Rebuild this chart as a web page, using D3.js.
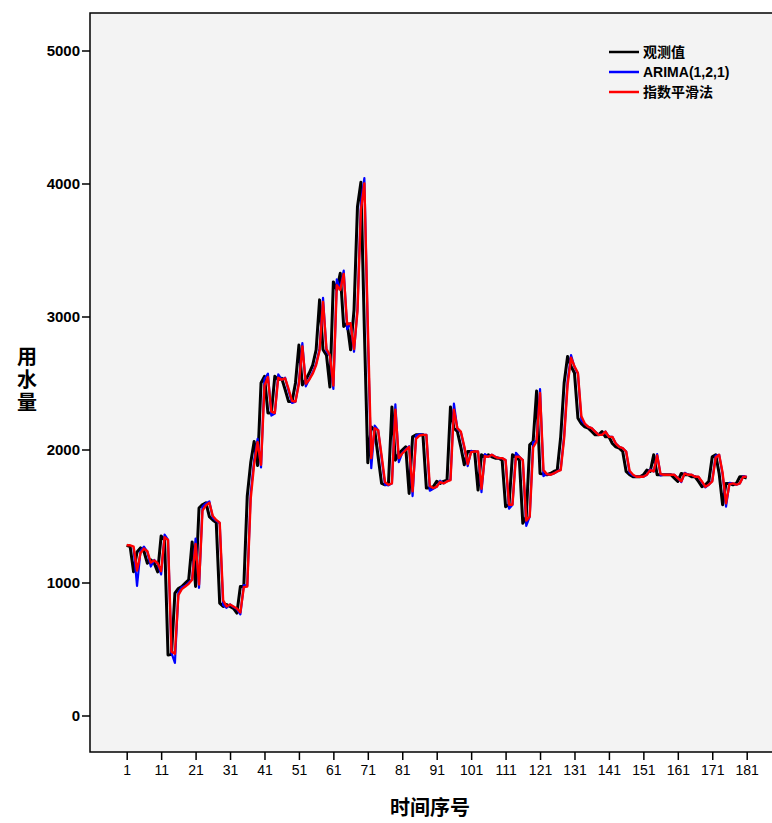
<!DOCTYPE html>
<meta charset="utf-8">
<style>
  body { margin: 0; background: #fff; }
  svg { display: block; }
</style>

<!-- Load d3.js -->
<script src="https://d3js.org/d3.v7.min.js"></script>

<div id="my_dataviz"></div>

<script>

// 观测值
const observed = [
  1280,1270,1080,1230,1260,1235,1145,1170,1145,1080,
  1350,1320,455,460,920,955,970,995,1020,1305,
  970,1560,1585,1600,1495,1470,1450,845,820,835,
  820,805,770,970,970,1650,1900,2060,1880,2500,
  2550,2275,2275,2550,2525,2535,2450,2360,2360,2500,
  2785,2485,2525,2575,2635,2750,3125,2750,2710,2470,
  3260,3200,3325,2925,2950,2750,3050,3825,4010,2900,
  1900,2170,2145,1945,1745,1735,1745,2320,1920,1970,
  1995,2020,1670,2095,2110,2110,2110,1710,1710,1720,
  1760,1745,1760,1770,2320,2160,2135,2020,1885,1985,
  1985,1985,1695,1960,1945,1960,1945,1935,1935,1920,
  1570,1585,1960,1945,1920,1445,1495,2035,2060,2440,
  1820,1815,1810,1820,1835,1845,2095,2500,2700,2625,
  2575,2235,2195,2170,2160,2135,2110,2110,2135,2095,
  2095,2045,2020,2010,1985,1835,1810,1795,1795,1795,
  1810,1845,1835,1960,1810,1810,1810,1810,1810,1785,
  1760,1820,1810,1810,1795,1795,1760,1720,1735,1760,
  1945,1960,1820,1585,1745,1745,1735,1745,1795,1795,
  1785
];

// ARIMA(1,2,1) (no forecast for the first two points)
const arima = [
  null,null,1262,975,1235,1270,1230,1120,1170,1140,
  1060,1360,1320,470,395,925,965,975,1000,1025,
  1330,960,1570,1595,1610,1485,1465,1445,830,810,
  835,815,800,760,980,975,1670,1920,2080,1865,
  2530,2570,2255,2270,2565,2525,2540,2440,2350,2360,
  2510,2800,2475,2530,2580,2645,2760,3140,2740,2705,
  2455,3280,3205,3345,2905,2950,2735,3060,3850,4040,
  2870,1860,2180,2145,1935,1735,1730,1745,2340,1905,
  1975,2000,2025,1650,2105,2115,2110,2110,1690,1705,
  1720,1765,1745,1760,1775,2345,2155,2130,2015,1875,
  1990,1985,1985,1680,1965,1945,1960,1945,1935,1935,
  1920,1555,1585,1975,1945,1920,1425,1495,2055,2065,
  2455,1800,1815,1810,1820,1835,1850,2105,2515,2710,
  2620,2570,2220,2190,2170,2160,2135,2110,2110,2135,
  2095,2095,2045,2020,2010,1985,1825,1805,1795,1795,
  1795,1810,1850,1835,1965,1805,1810,1810,1810,1810,
  1785,1755,1825,1810,1810,1795,1795,1755,1715,1735,
  1765,1955,1960,1815,1570,1750,1745,1735,1745,1800,
  1795
];

// 指数平滑法
const smoothing = [
  1280,1280,1270,1090,1220,1255,1235,1150,1165,1145,
  1085,1340,1320,480,465,905,950,970,990,1020,
  1290,985,1540,1580,1600,1500,1470,1450,865,820,
  835,820,805,775,965,970,1630,1890,2055,1885,
  2480,2545,2285,2275,2540,2525,2535,2455,2365,2360,
  2495,2775,2495,2525,2570,2635,2745,3110,2755,2710,
  2480,3235,3200,3320,2940,2950,2755,3040,3800,4000,
  2935,1935,2160,2145,1955,1755,1735,1745,2300,1935,
  1970,1995,2020,1685,2080,2105,2110,2110,1725,1710,
  1720,1755,1745,1760,1770,2300,2160,2135,2025,1890,
  1980,1985,1985,1705,1950,1945,1960,1945,1935,1935,
  1920,1585,1585,1945,1945,1920,1465,1495,2015,2060,
  2425,1845,1815,1810,1820,1835,1845,2085,2485,2690,
  2625,2575,2250,2195,2170,2160,2135,2110,2110,2135,
  2095,2095,2045,2020,2010,1985,1840,1810,1795,1795,
  1795,1810,1845,1835,1955,1815,1810,1810,1810,1810,
  1785,1760,1820,1810,1810,1795,1795,1760,1720,1735,
  1760,1940,1960,1825,1595,1740,1745,1735,1745,1795,
  1795
];

const xTicks = d3.range(1, 182, 10);
const yTicks = [0, 1000, 2000, 3000, 4000, 5000];

const seriesNames = ["观测值", "ARIMA(1,2,1)", "指数平滑法"];
const seriesColors = ["#000000", "#0000ff", "#ff0000"];
const seriesWidths = [3, 2.2, 2.4];

const W = 772, H = 823;
const box = {left: 90, top: 13, right: 780, bottom: 752};

const svg = d3.select("#my_dataviz")
  .append("svg")
    .attr("width", W)
    .attr("height", H);

// plot area
svg.append("rect")
  .attr("x", box.left)
  .attr("y", box.top)
  .attr("width", box.right - box.left)
  .attr("height", box.bottom - box.top)
  .attr("fill", "#f3f3f3")
  .attr("stroke", "#000")
  .attr("stroke-width", 1.5);

const x = d3.scaleLinear().domain([1, 181]).range([126.7, 746.7]);
const y = d3.scaleLinear().domain([0, 5000]).range([715.5, 50.5]);

// Y axis
const yAxis = svg.append("g")
  .attr("transform", `translate(${box.left},0)`)
  .call(d3.axisLeft(y).tickValues(yTicks).tickSize(8).tickPadding(2).tickFormat(d3.format("d")));
yAxis.select(".domain").remove();
yAxis.selectAll("line").attr("stroke", "#000").attr("stroke-width", 1.5);
yAxis.selectAll("text")
  .attr("font-family", "Liberation Sans, Arial, sans-serif")
  .attr("font-size", 15)
  .attr("font-weight", "bold")
  .attr("fill", "#000");

// X axis
const xAxis = svg.append("g")
  .attr("transform", `translate(0,${box.bottom})`)
  .call(d3.axisBottom(x).tickValues(xTicks).tickSize(8).tickPadding(5));
xAxis.select(".domain").remove();
xAxis.selectAll("line").attr("stroke", "#000").attr("stroke-width", 1.5);
xAxis.selectAll("text")
  .attr("font-family", "Liberation Sans Narrow, Arial Narrow, sans-serif")
  .attr("font-stretch", "condensed")
  .attr("font-size", 14)
  .attr("fill", "#000");

// lines
const allSeries = [observed, arima, smoothing];
const line = d3.line()
  .defined(d => d != null)
  .x((d, i) => x(i + 1))
  .y(d => y(d));

allSeries.forEach((s, k) => {
  svg.append("path")
    .datum(s)
    .attr("fill", "none")
    .attr("stroke", seriesColors[k])
    .attr("stroke-width", seriesWidths[k])
    .attr("stroke-linejoin", "round")
    .attr("d", line);
});

// legend
const legend = svg.append("g").attr("transform", "translate(609,52)");
seriesNames.forEach((name, k) => {
  const g = legend.append("g").attr("transform", `translate(0,${k * 20})`);
  g.append("line")
    .attr("x1", 0).attr("x2", 30)
    .attr("stroke", seriesColors[k])
    .attr("stroke-width", 2.5);
  g.append("text")
    .attr("x", 34)
    .attr("dy", "0.35em")
    .attr("font-family", "Liberation Sans, Noto Sans CJK SC, sans-serif")
    .attr("font-size", 14)
    .attr("font-weight", "bold")
    .text(name);
});

// axis titles
svg.append("text")
  .attr("x", 430)
  .attr("y", 815)
  .attr("text-anchor", "middle")
  .attr("font-family", "Noto Sans CJK SC, sans-serif")
  .attr("font-size", 20)
  .attr("font-weight", "bold")
  .text("时间序号");

svg.append("text")
  .attr("x", 27)
  .attr("y", 346)
  .attr("writing-mode", "vertical-rl")
  .attr("text-orientation", "upright")
  .attr("letter-spacing", 3)
  .attr("font-family", "Noto Sans CJK SC, sans-serif")
  .attr("font-size", 20)
  .attr("font-weight", "bold")
  .text("用水量");

</script>
